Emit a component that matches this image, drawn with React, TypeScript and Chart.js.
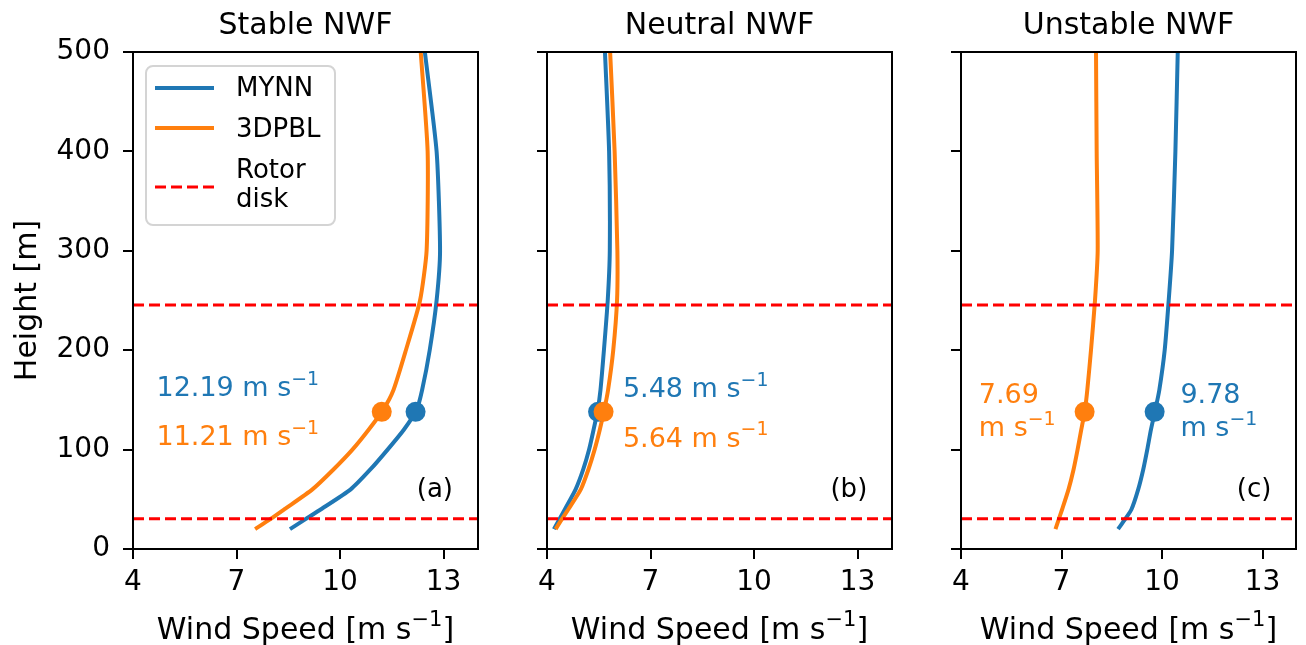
import React, { useEffect, useRef } from 'react';
import { Chart, registerables } from 'chart.js';

Chart.register(...registerables);

// ---------- data ----------
const heights = [20, 30, 40, 60, 80, 100, 120, 140, 160, 200, 250, 300, 400, 500];
const stableMYNN = [8.55, 9.0, 9.45, 10.31, 10.88, 11.38, 11.85, 12.22, 12.38, 12.6, 12.8, 12.9, 12.8, 12.46];
const stable3DPBL = [7.54, 7.98, 8.39, 9.2, 9.81, 10.36, 10.83, 11.25, 11.55, 11.91, 12.32, 12.51, 12.54, 12.34];
const neutralMYNN = [4.2, 4.36, 4.52, 4.83, 5.05, 5.22, 5.35, 5.47, 5.55, 5.65, 5.76, 5.82, 5.8, 5.68];
const neutral3DPBL = [4.25, 4.43, 4.62, 4.98, 5.2, 5.38, 5.53, 5.66, 5.77, 5.92, 6.03, 6.04, 5.96, 5.83];
const unstableMYNN = [8.69, 8.9, 9.09, 9.29, 9.44, 9.56, 9.67, 9.8, 9.92, 10.08, 10.2, 10.3, 10.4, 10.47];
const unstable3DPBL = [6.82, 6.92, 7.02, 7.21, 7.36, 7.48, 7.59, 7.7, 7.77, 7.88, 8.0, 8.08, 8.05, 8.03];

const hubMYNN = [12.19, 5.48, 9.78];
const hub3DPBL = [11.21, 5.64, 7.69];
const hubHeight = 138;
const rotorLimits = [30.5, 245.5];

const panelTitles = ['Stable NWF', 'Neutral NWF', 'Unstable NWF'];
const panelLetters = ['(a)', '(b)', '(c)'];
const seriesNames = ['MYNN', '3DPBL'];
const rotorName = ['Rotor', 'disk'];

const xTicks = [4, 7, 10, 13];
const yTicks = [0, 100, 200, 300, 400, 500];
const xRange = [4, 14];
const yRange = [0, 500];
const xAxisLabel = 'Wind Speed [m s';
const unitSup = '\u22121';
const yAxisLabel = 'Height [m]';

// ---------- styles ----------
const BLUE = '#1f77b4';
const ORANGE = '#ff7f0e';
const RED = '#ff0000';
const FONT = '"DejaVu Sans", sans-serif';
const DASH = [11, 5];

const mynnSeries = [stableMYNN, neutralMYNN, unstableMYNN];
const pblSeries = [stable3DPBL, neutral3DPBL, unstable3DPBL];

type Note = { x: number; y: number; color: string; base: string; sup?: string };

const fmt = (v: number) => v.toFixed(2);

const panelNotes: Note[][] = [
  [
    { x: 4.68, y: 154, color: BLUE, base: `${fmt(hubMYNN[0])} m s`, sup: unitSup },
    { x: 4.68, y: 104.6, color: ORANGE, base: `${fmt(hub3DPBL[0])} m s`, sup: unitSup },
  ],
  [
    { x: 6.2, y: 153, color: BLUE, base: `${fmt(hubMYNN[1])} m s`, sup: unitSup },
    { x: 6.2, y: 103, color: ORANGE, base: `${fmt(hub3DPBL[1])} m s`, sup: unitSup },
  ],
  [
    { x: 4.53, y: 146.5, color: ORANGE, base: `${fmt(hub3DPBL[2])}` },
    { x: 4.53, y: 113.5, color: ORANGE, base: 'm s', sup: unitSup },
    { x: 10.55, y: 146.5, color: BLUE, base: `${fmt(hubMYNN[2])}` },
    { x: 10.55, y: 113.5, color: BLUE, base: 'm s', sup: unitSup },
  ],
];

const panelLayout = [
  { left: 0, width: 500, yw: 133, padRight: 22 },
  { left: 500, width: 410, yw: 47, padRight: 18 },
  { left: 910, width: 396, yw: 51, padRight: 1 },
];

function drawRich(
  ctx: CanvasRenderingContext2D,
  x: number,
  y: number,
  parts: { t: string; sup?: boolean }[],
  size: number,
  align: 'left' | 'center',
  color: string
) {
  const ss = size * 0.7;
  const widths = parts.map((p) => {
    ctx.font = `${p.sup ? ss : size}px ${FONT}`;
    return ctx.measureText(p.t).width;
  });
  const total = widths.reduce((a, b) => a + b, 0);
  let cx = align === 'center' ? x - total / 2 : x;
  ctx.fillStyle = color;
  ctx.textAlign = 'left';
  ctx.textBaseline = 'alphabetic';
  parts.forEach((p, i) => {
    ctx.font = `${p.sup ? ss : size}px ${FONT}`;
    ctx.fillText(p.t, cx, p.sup ? y - size * 0.42 : y);
    cx += widths[i];
  });
}

function makeDecor(idx: number) {
  return {
    id: 'decor' + idx,
    afterDraw(chart: any) {
      const ctx: CanvasRenderingContext2D = chart.ctx;
      const ca = chart.chartArea;
      const xs = chart.scales.x;
      const ys = chart.scales.y;
      ctx.save();
      // frame
      ctx.strokeStyle = '#000';
      ctx.lineWidth = 2;
      ctx.strokeRect(ca.left, ca.top, ca.right - ca.left, ca.bottom - ca.top);

      // title
      ctx.font = `30px ${FONT}`;
      ctx.fillStyle = '#000';
      ctx.textAlign = 'center';
      ctx.textBaseline = 'alphabetic';
      ctx.fillText(panelTitles[idx], (ca.left + ca.right) / 2, 34);

      // x axis label
      drawRich(
        ctx,
        (ca.left + ca.right) / 2,
        639,
        [{ t: xAxisLabel }, { t: unitSup, sup: true }, { t: ']' }],
        30,
        'center',
        '#000'
      );

      // y axis label
      if (idx === 0) {
        ctx.save();
        ctx.translate(36, (ca.top + ca.bottom) / 2);
        ctx.rotate(-Math.PI / 2);
        ctx.font = `30px ${FONT}`;
        ctx.fillStyle = '#000';
        ctx.textAlign = 'center';
        ctx.textBaseline = 'alphabetic';
        ctx.fillText(yAxisLabel, 0, 0);
        ctx.restore();
      }

      // panel letter
      ctx.font = `26px ${FONT}`;
      ctx.fillStyle = '#000';
      ctx.textAlign = 'center';
      ctx.textBaseline = 'alphabetic';
      ctx.fillText(panelLetters[idx], xs.getPixelForValue(12.75), ys.getPixelForValue(52));

      // hub annotations
      panelNotes[idx].forEach((n) => {
        const parts: { t: string; sup?: boolean }[] = [{ t: n.base }];
        if (n.sup) parts.push({ t: n.sup, sup: true });
        drawRich(ctx, xs.getPixelForValue(n.x), ys.getPixelForValue(n.y), parts, 27, 'left', n.color);
      });

      // legend
      if (idx === 0) {
        const bx = ca.left + 13;
        const by = ca.top + 14;
        const bw = 189;
        const bh = 159;
        ctx.beginPath();
        (ctx as any).roundRect(bx, by, bw, bh, 7);
        ctx.fillStyle = 'rgba(255,255,255,0.8)';
        ctx.fill();
        ctx.strokeStyle = '#d4d4d4';
        ctx.lineWidth = 2;
        ctx.stroke();

        const lx0 = bx + 9;
        const lx1 = bx + 68;
        const tx = bx + 90;
        const rows = [
          { color: BLUE, dash: [] as number[], ly: 22, texts: [{ t: seriesNames[0], b: 30 }] },
          { color: ORANGE, dash: [] as number[], ly: 62, texts: [{ t: seriesNames[1], b: 71 }] },
          {
            color: RED,
            dash: DASH,
            ly: 121,
            texts: [
              { t: rotorName[0], b: 112 },
              { t: rotorName[1], b: 141 },
            ],
          },
        ];
        rows.forEach((r) => {
          ctx.beginPath();
          ctx.setLineDash(r.dash);
          ctx.strokeStyle = r.color;
          ctx.lineWidth = r.dash.length ? 3 : 4;
          ctx.moveTo(lx0, by + r.ly);
          ctx.lineTo(lx1, by + r.ly);
          ctx.stroke();
          ctx.setLineDash([]);
          ctx.font = `26px ${FONT}`;
          ctx.fillStyle = '#000';
          ctx.textAlign = 'left';
          ctx.textBaseline = 'alphabetic';
          r.texts.forEach((tt) => ctx.fillText(tt.t, tx, by + tt.b));
        });
      }
      ctx.restore();
    },
  };
}

function Panel({ idx }: { idx: number }) {
  const ref = useRef<HTMLCanvasElement>(null);
  const lay = panelLayout[idx];
  useEffect(() => {
    const toPts = (vals: number[]) => vals.map((v, i) => ({ x: v, y: heights[i] }));
    const rotorDs = (h: number) => ({
      data: [
        { x: xRange[0], y: h },
        { x: xRange[1], y: h },
      ],
      borderColor: RED,
      borderWidth: 3,
      borderDash: DASH,
      pointRadius: 0,
      showLine: true,
      tension: 0,
      order: 1,
    });
    const chart = new Chart(ref.current as HTMLCanvasElement, {
      type: 'scatter',
      data: {
        datasets: [
          {
            label: seriesNames[0],
            data: toPts(mynnSeries[idx]),
            borderColor: BLUE,
            backgroundColor: BLUE,
            borderWidth: 4,
            pointRadius: 0,
            showLine: true,
            tension: 0.2,
            order: 6,
          },
          {
            label: seriesNames[1],
            data: toPts(pblSeries[idx]),
            borderColor: ORANGE,
            backgroundColor: ORANGE,
            borderWidth: 4,
            pointRadius: 0,
            showLine: true,
            tension: 0.2,
            order: 5,
          },
          {
            label: 'hubMYNN',
            data: [{ x: hubMYNN[idx], y: hubHeight }],
            backgroundColor: BLUE,
            borderColor: BLUE,
            borderWidth: 0,
            pointRadius: 10,
            showLine: false,
            order: 4,
          },
          {
            label: 'hub3DPBL',
            data: [{ x: hub3DPBL[idx], y: hubHeight }],
            backgroundColor: ORANGE,
            borderColor: ORANGE,
            borderWidth: 0,
            pointRadius: 10,
            showLine: false,
            order: 3,
          },
          rotorDs(rotorLimits[0]) as any,
          rotorDs(rotorLimits[1]) as any,
        ],
      },
      options: {
        animation: false,
        responsive: false,
        maintainAspectRatio: false,
        layout: { padding: { top: 52, left: 0, right: lay.padRight, bottom: 0 } },
        plugins: {
          legend: { display: false },
          tooltip: { enabled: false },
          title: { display: false },
        },
        scales: {
          x: {
            type: 'linear',
            position: 'bottom',
            min: xRange[0],
            max: xRange[1],
            afterBuildTicks: (s: any) => {
              s.ticks = xTicks.map((v) => ({ value: v }));
            },
            afterFit: (s: any) => {
              s.height = 96;
            },
            grid: {
              display: true,
              drawOnChartArea: false,
              drawTicks: true,
              tickLength: 10,
              color: '#000',
              lineWidth: 2,
            },
            border: { display: false },
            ticks: {
              color: '#000',
              font: { family: FONT, size: 28 },
              padding: 7,
              maxRotation: 0,
              autoSkip: false,
            },
          },
          y: {
            type: 'linear',
            position: 'left',
            min: yRange[0],
            max: yRange[1],
            afterBuildTicks: (s: any) => {
              s.ticks = yTicks.map((v) => ({ value: v }));
            },
            afterFit: (s: any) => {
              s.width = lay.yw;
            },
            grid: {
              display: true,
              drawOnChartArea: false,
              drawTicks: true,
              tickLength: 10,
              color: '#000',
              lineWidth: 2,
            },
            border: { display: false },
            ticks: {
              display: idx === 0,
              color: '#000',
              font: { family: FONT, size: 28 },
              padding: 13,
              autoSkip: false,
            },
          },
        },
      },
      plugins: [makeDecor(idx)],
    } as any);
    return () => chart.destroy();
  }, []);
  return (
    <canvas
      ref={ref}
      width={lay.width}
      height={645}
      style={{ position: 'absolute', left: lay.left, top: 0, width: lay.width, height: 645 }}
    />
  );
}

export default function App() {
  return (
    <div style={{ position: 'absolute', left: 0, top: 0, width: 1306, height: 645, background: '#fff' }}>
      <Panel idx={0} />
      <Panel idx={1} />
      <Panel idx={2} />
    </div>
  );
}
